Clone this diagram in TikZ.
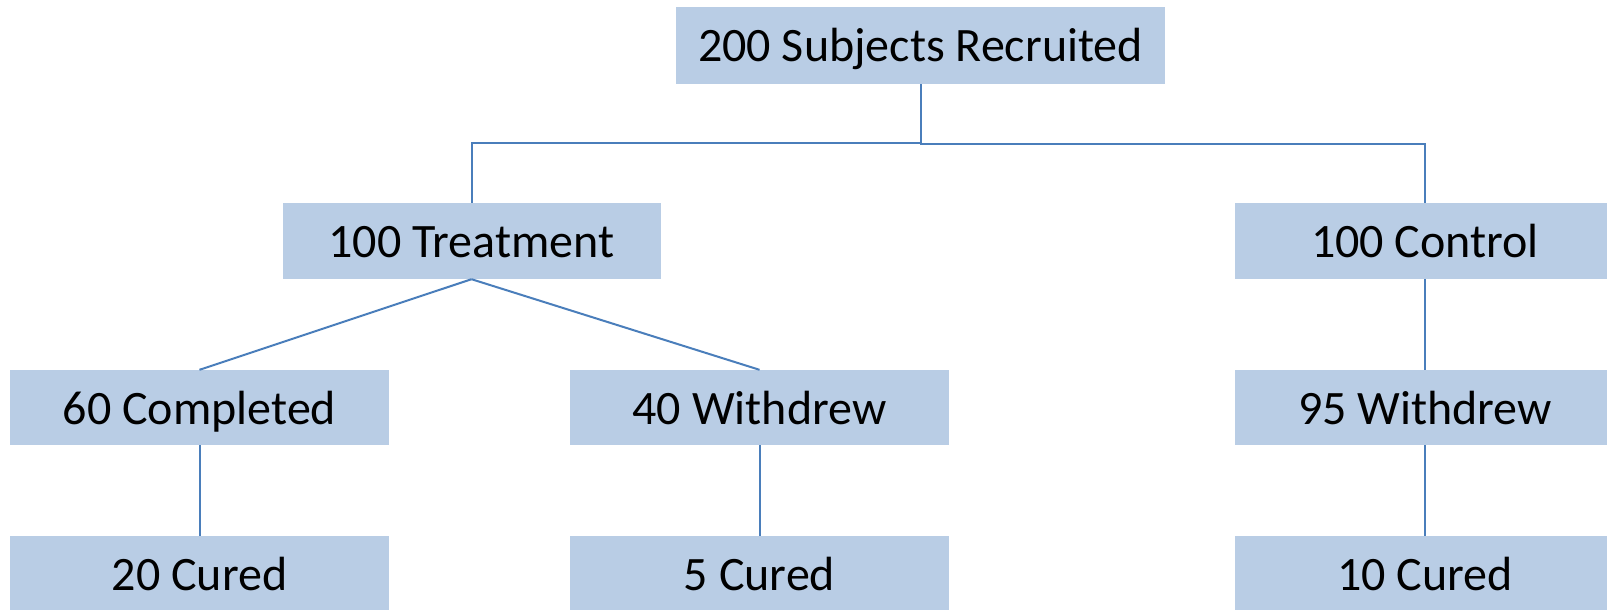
\documentclass[tikz,border=0pt]{standalone}
\usepackage{fontspec}
\setmainfont{Carlito}
\definecolor{boxfill}{HTML}{B9CDE5}
\definecolor{linkc}{HTML}{4A7EBB}
\begin{document}
\begin{tikzpicture}[x=1pt,y=-1pt,
  box/.style={fill=boxfill, draw=none, inner sep=0pt, minimum height=76pt,
    text height=33pt, text depth=0pt, font=\fontsize{48}{58}\selectfont},
  link/.style={draw=linkc, line width=2pt}]
\useasboundingbox (0,0) rectangle (1607,610);
\node[box, minimum width=489pt, minimum height=77pt] (top) at (920.5,45.5) {200 Subjects Recruited};
\node[box, minimum width=378pt] (treat) at (471.5,241) {100 Treatment};
\node[box, minimum width=380pt] (ctrl) at (1425,241) {100 Control};
\node[box, minimum width=379pt, minimum height=75pt] (comp) at (199.5,407.5) {60 Completed};
\node[box, minimum width=379pt, minimum height=75pt] (wd) at (759.5,407.5) {40 Withdrew};
\node[box, minimum width=380pt, minimum height=75pt] (wdc) at (1425,407.5) {95 Withdrew};
\node[box, minimum width=379pt] (cur1) at (199.5,574) {20 Cured};
\node[box, minimum width=379pt] (cur2) at (759.5,574) {5 Cured};
\node[box, minimum width=380pt] (cur3) at (1425,574) {10 Cured};
\draw[link] (top.south) -- ++(0,59) -| (treat.north);
\draw[link] (top.south) -- ++(0,60) -| (ctrl.north);
\draw[link] (treat.south) -- (comp.north);
\draw[link] (treat.south) -- (wd.north);
\draw[link] (ctrl.south) -- (wdc.north);
\draw[link] (comp.south) -- (cur1.north);
\draw[link] (wd.south) -- (cur2.north);
\draw[link] (wdc.south) -- (cur3.north);
\end{tikzpicture}
\end{document}
